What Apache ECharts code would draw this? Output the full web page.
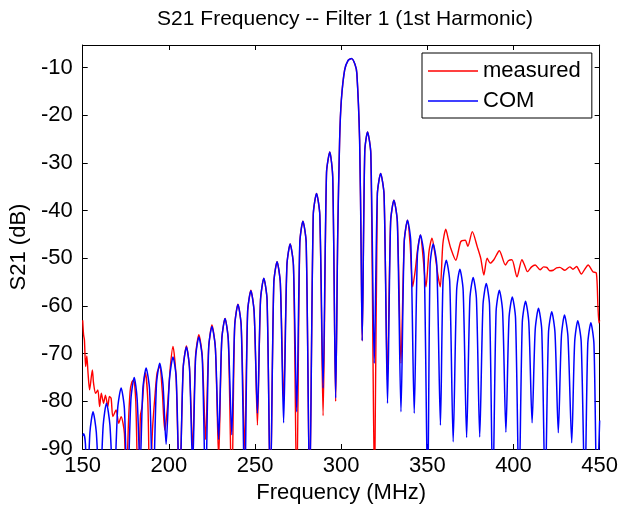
<!DOCTYPE html>
<html><head><meta charset="utf-8">
<script src="https://cdn.jsdelivr.net/npm/echarts@6/dist/echarts.min.js"></script>
<style>html,body{margin:0;padding:0;background:#fff}#c{width:621px;height:510px}</style>
</head><body><div id="c"></div>
<script>
const titleText = 'S21 Frequency -- Filter 1 (1st Harmonic)';
const xName = 'Frequency (MHz)';
const yName = 'S21 (dB)';
const seriesNames = ['measured', 'COM'];
const xTicks = [150, 200, 250, 300, 350, 400, 450];
const yTicks = [-90, -80, -70, -60, -50, -40, -30, -20, -10];

// COM model: nulls, lobe flanks and lobe peaks (MHz, dB)
const comFreq = [150.0,150.6,151.6,152.6,
  154.2,156.0,157.9,159.9, 161.9,163.8,165.8,168.0, 170.3,172.3,174.2,175.9, 178.0,179.9,181.6,183.3,
  184.9,186.8,188.8,190.8, 192.8,194.7,196.6,198.4, 200.4,202.4,204.3,206.2, 208.3,210.2,212.0,213.8,
  215.5,217.4,219.4,221.3, 223.1,225.0,227.0,228.9, 230.7,232.6,234.5,236.5, 238.2,240.1,242.0,244.0,
  245.7,247.6,249.5,251.4, 253.2,255.1,257.0,258.9, 260.9,262.8,264.7,266.6, 268.5,270.4,272.3,274.2,
  276.0,277.8,279.7,281.7, 283.8,285.7,287.6,289.5, 291.5,293.4,295.1,296.8,
  298.0,299.1,300.1,302.0,304.0,306.0,308.0,309.1,310.7,311.6,312.2,
  313.7,315.3,317.2,319.2, 321.0,322.9,324.9,326.9, 328.7,330.6,332.6,334.7, 336.6,338.5,340.4,342.4,
  344.2,346.0,348.1,350.2, 351.6,353.4,355.5,357.6, 359.1,361.0,363.0,365.0, 367.0,368.9,370.8,372.8,
  374.7,376.6,378.5,380.4, 382.3,384.2,386.1,388.0, 389.9,391.8,393.7,395.6, 397.4,399.3,401.2,403.2,
  405.1,407.0,408.9,410.8, 412.6,414.5,416.4,418.4, 420.3,422.2,424.1,426.0, 427.8,429.6,431.6,433.8,
  435.5,437.3,439.3,441.4, 443.1,444.9,446.7,448.4, 450.0];
const comDb = [-87.2,-86.8,-89,-100,
  -86.5,-82.2,-86.5,-100, -85.0,-80.4,-85.0,-100, -81.5,-77.2,-81.5,-100, -79.5,-75.0,-79.5,-94,
  -77.5,-73.0,-77.5,-100, -76.5,-72.0,-76.5,-89, -75.2,-70.7,-75.2,-100, -73.1,-68.6,-73.1,-94,
  -71.0,-66.5,-71.0,-100, -68.8,-64.3,-68.8,-88, -67.1,-62.6,-67.1,-87, -64.2,-59.7,-64.2,-100,
  -61.3,-56.8,-61.3,-82.5, -58.7,-54.2,-58.7,-100, -55.2,-50.7,-55.2,-84.5, -51.5,-47.0,-51.5,-82.2,
  -46.7,-42.2,-46.7,-100, -40.9,-36.4,-40.9,-77.2, -32.0,-27.7,-33.0,-79.3,
  -45,-25.2,-16.8,-10.5,-8.5,-8.1,-9.3,-11.2,-25.2,-48.9,-67.3,
  -27.5,-23.5,-28.0,-72, -36.5,-32.2,-36.7,-80.4, -42.3,-37.8,-42.3,-82.2, -46.5,-42.0,-46.5,-82.5,
  -49.6,-45.1,-49.6,-100, -51.5,-47.0,-51.5,-85.0, -54.9,-50.4,-54.9,-88.5, -56.8,-52.3,-56.8,-87.6,
  -58.5,-54.0,-58.5,-87.5, -59.8,-55.3,-59.8,-100, -61.2,-56.7,-61.2,-86.5, -62.6,-58.1,-62.6,-100,
  -63.5,-59.0,-63.5,-84.5, -65.0,-60.5,-65.0,-100, -65.7,-61.2,-65.7,-86.6, -66.4,-61.9,-66.4,-88.7,
  -67.6,-63.1,-67.6,-100, -68.0,-63.5,-68.0,-100, -84];

// measured trace (MHz, dB)
const measFreq = [150.0,150.5,151.0,151.7,152.4,153.1,154.0,155.6,156.3,157.5,158.8,159.8,160.8,162.1,163.2,164.6,165.5,166.5,167.5,169.4,170.9,172.3,174.2,175.2,
  176.5,177.5,178.5,179.6,180.8,182.2,183.5,184.5,185.5,186.4,187.8,189.0,190.5,191.9,193.2,194.7,196.2,197.6,199.0,200.8,202.4,204.2,206.2,
  208.3,210.2,212.0,213.8, 215.5,217.4,219.4,221.3, 223.1,225.0,227.0,228.9, 230.7,232.6,234.5,236.5, 238.2,240.1,242.0,244.0,
  245.7,247.6,249.5,251.4, 253.2,255.1,257.0,258.9, 260.9,262.8,264.7,266.6, 268.5,270.4,272.3,274.2,
  276.0,277.8,279.7,281.7, 283.8,285.7,287.6,289.5, 291.5,293.4,295.1,296.8,
  298.0,299.1,300.1,302.0,304.0,306.0,308.0,309.1,310.7,311.6,312.2,
  313.7,315.3,317.2,319.4, 321.0,322.9,324.9,326.8, 328.7,330.6,332.6,334.7, 336.6,338.5,340.0,341.5,
  343.0,344.4,346.0,347.6,349.2, 351.0,352.7,354.4,356.0, 357.5,359.0,360.7,362.2,
  363.6,366.5,369.4,372.0,373.5,376.1,379.0,381.0,382.8,384.7,386.5,388.6,391.8,395.3,397.0,399.1,402.0,404.9,406.5,408.1,410.5,412.6,415.4,417.5,419.3,421.0,423.1,425.0,426.9,429.8,432.7,434.5,436.6,439.4,441.5,443.3,446.1,448.1,449.0,449.6,450.0];
const measDb = [-63.0,-66.0,-67.1,-72.7,-70.5,-74.1,-77.6,-73.4,-76.2,-78.3,-77.6,-81.1,-78.3,-80.4,-78.7,-81.1,-79.0,-79.4,-83.2,-81.8,-84.6,-83.2,-86.7,-100,
  -85,-78,-76,-75.5,-80,-100,-83,-81,-76,-74,-80,-100,-86,-79,-74,-72.7,-78,-86,-82,-73,-68.5,-75,-100,
  -73.1,-68.4,-73.1,-90, -70.5,-66.0,-70.5,-88, -68.8,-64.0,-68.8,-92, -67.1,-62.6,-67.1,-100, -64.2,-59.6,-64.2,-90,
  -61.3,-56.7,-61.3,-85, -58.7,-54.2,-58.7,-100, -55.2,-50.7,-55.2,-80, -51.5,-47.0,-51.5,-100,
  -46.7,-42.2,-46.7,-100, -40.9,-36.4,-40.9,-83, -32.0,-27.7,-33.0,-80,
  -45,-25.2,-16.8,-10.5,-8.5,-8.1,-9.3,-11.2,-25.2,-48.9,-67.3,
  -27.5,-23.5,-28.0,-100, -36.5,-32.2,-36.7,-75.5, -42.3,-37.8,-42.3,-72, -46.5,-42.0,-47.0,-56,
  -52.5,-48.0,-45.1,-50.0,-56.0, -48.5,-45.8,-49.0,-53.2, -56.0,-47.0,-43.9,-46.0,
  -47.9,-50.4,-46.5,-46.2,-47.5,-44.4,-47.6,-50.0,-53.5,-50.0,-51.0,-50.3,-48.4,-51.4,-50.5,-50.3,-53.9,-50.3,-51.5,-52.8,-51.8,-51.4,-52.4,-51.8,-51.9,-52.6,-52.5,-52.0,-51.9,-52.5,-51.8,-52.3,-51.7,-53.3,-52.2,-51.4,-52.8,-53.1,-60.0,-63.6,-63.0];

const FONT = '"Liberation Sans", Arial, sans-serif';
const comData = comFreq.map((f, i) => [f, comDb[i]]);
const measData = measFreq.map((f, i) => [f, measDb[i]]);

const chart = echarts.init(document.getElementById('c'), null, {renderer: 'canvas'});
const axisCommon = {
  axisLine: {show: true, onZero: false, lineStyle: {color: '#000', width: 1}},
  axisTick: {show: true, inside: true, length: 5, lineStyle: {color: '#000'}},
  splitLine: {show: false}
};
chart.setOption({
  animation: false,
  backgroundColor: '#fff',
  title: {
    text: titleText, left: 340, top: 4, textAlign: 'center',
    textStyle: {fontFamily: FONT, fontSize: 21, fontWeight: 'normal', color: '#000'}
  },
  legend: {
    data: seriesNames, orient: 'vertical', left: 422, top: 53, icon: 'rect',
    backgroundColor: '#fff', borderColor: '#000', borderWidth: 1, borderRadius: 0,
    padding: [7, 11, 6, 6], itemWidth: 50, itemHeight: 1.5, itemGap: 8,
    textStyle: {fontFamily: FONT, fontSize: 22, color: '#000'}
  },
  grid: {left: 79, right: 21, top: 45, bottom: 61, show: false},
  xAxis: [
    Object.assign({}, axisCommon, {
      type: 'value', min: xTicks[0], max: xTicks[xTicks.length - 1], interval: 50, position: 'bottom',
      axisLabel: {color: '#000', fontFamily: FONT, fontSize: 22, margin: 6},
      name: xName, nameLocation: 'middle', nameGap: 30,
      nameTextStyle: {fontFamily: FONT, fontSize: 22, color: '#000'}
    }),
    Object.assign({}, axisCommon, {
      type: 'value', min: xTicks[0], max: xTicks[xTicks.length - 1], interval: 50, position: 'top',
      axisLabel: {show: false}
    })
  ],
  yAxis: [
    Object.assign({}, axisCommon, {
      type: 'value', min: yTicks[0], max: -5.25, interval: 10, position: 'left',
      axisLabel: {color: '#000', fontFamily: FONT, fontSize: 22, margin: 10, showMaxLabel: false},
      name: yName, nameLocation: 'middle', nameGap: 42, nameRotate: 90,
      nameTextStyle: {fontFamily: FONT, fontSize: 22, color: '#000'}
    }),
    Object.assign({}, axisCommon, {
      type: 'value', min: yTicks[0], max: -5.25, interval: 10, position: 'right',
      axisLabel: {show: false}
    })
  ],
  series: [
    {
      name: seriesNames[0], type: 'line', data: measData, xAxisIndex: 0, yAxisIndex: 0,
      symbol: 'none', showSymbol: false, smooth: 0.25, clip: true,
      lineStyle: {color: '#ff0000', width: 1.4}, itemStyle: {color: '#ff0000'}
    },
    {
      name: seriesNames[1], type: 'line', data: comData, xAxisIndex: 0, yAxisIndex: 0,
      symbol: 'none', showSymbol: false, smooth: 0.25, clip: true,
      lineStyle: {color: '#0000ff', width: 1.5}, itemStyle: {color: '#0000ff'}
    }
  ]
});
</script></body></html>
